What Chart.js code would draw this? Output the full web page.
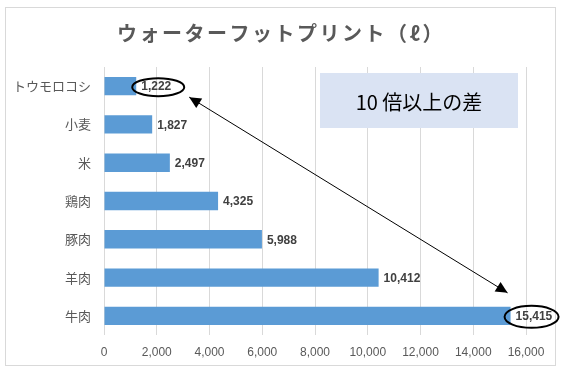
<!DOCTYPE html>
<html>
<head>
<meta charset="utf-8">
<script src="https://cdn.jsdelivr.net/npm/chart.js@4/dist/chart.umd.min.js"></script>
<style>
  html, body { margin: 0; padding: 0; background: #fff; }
  #wrap { width: 565px; height: 377px; }
</style>
</head>
<body>
<div id="wrap"><canvas id="chart"></canvas></div>
<script>
const categories = ["トウモロコシ", "小麦", "米", "鶏肉", "豚肉", "羊肉", "牛肉"];
const waterLitres = [1222, 1827, 2497, 4325, 5988, 10412, 15415];
const xTicks = [0, 2000, 4000, 6000, 8000, 10000, 12000, 14000, 16000];
const titleText = "ウォーターフットプリント（ℓ）";
const noteText = "10 倍以上の差";

const FONT = "'Noto Sans CJK JP', 'Noto Sans', sans-serif";
const LABEL_FONT = "'Liberation Sans', 'Noto Sans', sans-serif";

// frame, title, value labels, callout box, ellipses and arrow
const decorations = {
  id: "decorations",
  beforeDraw(chart) {
    const { ctx } = chart;
    ctx.save();
    ctx.fillStyle = "#fff";
    ctx.fillRect(0, 0, chart.width, chart.height);
    ctx.strokeStyle = "#d9d9d9";
    ctx.lineWidth = 1;
    ctx.strokeRect(5.5, 7.5, 550, 358);

    ctx.font = "bold 20px " + FONT;
    ctx.fillStyle = "#595959";
    ctx.textAlign = "center";
    ctx.textBaseline = "middle";
    ctx.letterSpacing = "2.5px";
    ctx.fillText(titleText, 281, 33);
    ctx.restore();
  },
  afterDatasetsDraw(chart) {
    const { ctx } = chart;
    const bars = chart.getDatasetMeta(0).data;
    ctx.save();

    // value labels
    ctx.font = "bold 12px " + LABEL_FONT;
    ctx.fillStyle = "#404040";
    ctx.textAlign = "left";
    ctx.textBaseline = "middle";
    bars.forEach((bar, i) => {
      ctx.fillText(waterLitres[i].toLocaleString("en-US"), bar.x + 5, bar.y + 1);
    });

    // callout box
    ctx.fillStyle = "#dae3f3";
    ctx.fillRect(320, 73, 198, 55);
    ctx.fillStyle = "#000";
    ctx.font = "20px " + FONT;
    ctx.textAlign = "center";
    ctx.fillText(noteText, 419, 102);

    // ellipses round the smallest and largest values
    const first = bars[0];
    const last = bars[bars.length - 1];
    ctx.strokeStyle = "#000";
    ctx.lineWidth = 2;
    ctx.beginPath();
    ctx.ellipse(first.x + 22, first.y + 1, 26, 9, 0, 0, Math.PI * 2);
    ctx.stroke();
    ctx.beginPath();
    ctx.ellipse(last.x + 21, last.y + 1, 27, 11, 0, 0, Math.PI * 2);
    ctx.stroke();

    // double-headed arrow
    const x1 = first.x + 53, y1 = first.y + 11;
    const x2 = last.x - 3, y2 = last.y - 23;
    ctx.lineWidth = 1;
    ctx.beginPath();
    ctx.moveTo(x1, y1);
    ctx.lineTo(x2, y2);
    ctx.stroke();
    const head = (tx, ty, fx, fy) => {
      const a = Math.atan2(ty - fy, tx - fx);
      const len = 13, w = 0.45;
      ctx.beginPath();
      ctx.moveTo(tx, ty);
      ctx.lineTo(tx - len * Math.cos(a - w), ty - len * Math.sin(a - w));
      ctx.lineTo(tx - len * Math.cos(a + w), ty - len * Math.sin(a + w));
      ctx.closePath();
      ctx.fillStyle = "#000";
      ctx.fill();
    };
    head(x1, y1, x2, y2);
    head(x2, y2, x1, y1);
    ctx.restore();
  },
};

new Chart(document.getElementById("chart"), {
  type: "bar",
  plugins: [decorations],
  data: {
    labels: categories,
    datasets: [
      {
        label: "ウォーターフットプリント",
        data: waterLitres,
        backgroundColor: "#5b9bd5",
        categoryPercentage: 1,
        barPercentage: 0.48,
      },
    ],
  },
  options: {
    indexAxis: "y",
    animation: false,
    responsive: true,
    maintainAspectRatio: false,
    layout: { padding: { left: 5, right: 39, top: 67, bottom: 12 } },
    plugins: {
      legend: { display: false },
      tooltip: { enabled: false },
      title: { display: false },
    },
    scales: {
      x: {
        min: 0,
        max: 16000,
        afterBuildTicks: (scale) => {
          scale.ticks = xTicks.map((v) => ({ value: v }));
        },
        afterFit: (scale) => {
          scale.height = 30;
        },
        grid: { color: "#d9d9d9", drawTicks: false },
        border: { display: false },
        ticks: {
          padding: 10,
          color: "#595959",
          font: { family: LABEL_FONT, size: 12 },
          callback: (v) => v.toLocaleString("en-US"),
        },
      },
      y: {
        afterFit: (scale) => {
          scale.width = 99;
        },
        grid: { display: false },
        border: { display: false },
        ticks: {
          padding: 5,
          color: "#595959",
          font: { family: FONT, size: 13 },
        },
      },
    },
  },
});
</script>
</body>
</html>
